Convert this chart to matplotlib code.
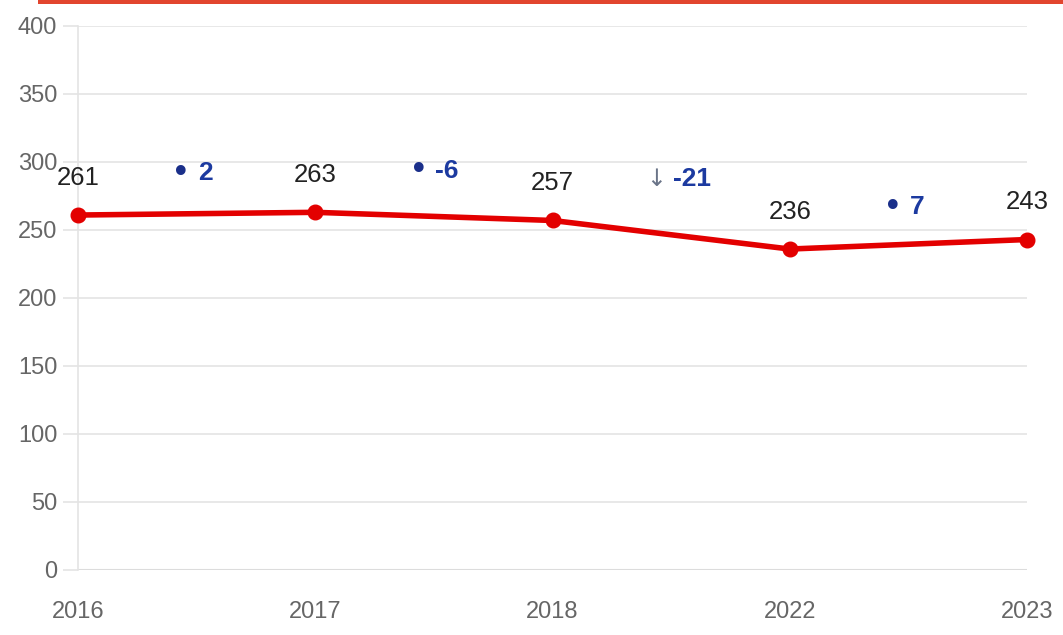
import matplotlib.pyplot as plt
from matplotlib.patches import Rectangle

years = ["2016", "2017", "2018", "2022", "2023"]
values = [261, 263, 257, 236, 243]
changes = ["2", "-6", "-21", "7"]
change_marks = ["•", "•", "↓", "•"]
yticks = [0, 50, 100, 150, 200, 250, 300, 350, 400]

plt.rcParams['font.family'] = ['Liberation Sans', 'DejaVu Sans']

fig = plt.figure(figsize=(10.63, 6.35), dpi=100)
ax = fig.add_axes([78/1063, 1 - 570/635, (1027-78)/1063, (570-26)/635])

x = list(range(len(years)))
ax.plot(x, values, color="#e30000", lw=4, marker="o", ms=10.5, clip_on=False, zorder=5,
        solid_capstyle="round")

# value labels over each point
for xi, v in zip(x, values):
    ax.annotate(str(v), (xi, v), xytext=(0, 27), textcoords="offset points",
                ha="center", va="center", fontsize=18.5, color="#222222")

# change between neighbouring years
for i, (mk, ch) in enumerate(zip(change_marks, changes)):
    xm = i + 0.5
    ym = values[i]
    if mk == "↓":
        ax.annotate(mk, (xm, ym), xytext=(-4, 30), textcoords="offset points",
                    ha="right", va="center", fontsize=17, color="#6a7488",
                    family=['DejaVu Sans'])
    else:
        ax.annotate(mk, (xm, ym), xytext=(-4, 30), textcoords="offset points",
                    ha="right", va="center", fontsize=24, color="#1a2f8a",
                    family=['DejaVu Sans'])
    ax.annotate(ch, (xm, ym), xytext=(1, 30), textcoords="offset points",
                ha="left", va="center", fontsize=19, color="#1c3aa0", fontweight="bold")

ax.set_xlim(0, len(years) - 1)
ax.set_ylim(0, 400)
ax.set_yticks(yticks)
ax.set_xticks(x)
ax.set_xticklabels(years)
ax.grid(axis="y", color="#e4e4e4", lw=1.2)
ax.set_axisbelow(True)
for s in ["top", "right", "bottom"]:
    ax.spines[s].set_visible(False)
ax.spines["left"].set_color("#e4e4e4")
ax.spines["left"].set_linewidth(1.2)
ax.tick_params(axis="y", length=11, color="#e4e4e4", width=1.2, pad=4,
               labelsize=17, labelcolor="#666666")
ax.tick_params(axis="x", length=0, pad=22, labelsize=17, labelcolor="#666666")
ax.axhline(0, color="#dcdcdc", lw=1.5, zorder=1)

fig.add_artist(Rectangle((38/1063, 1 - 4/635), 1 - 38/1063, 4/635,
                         transform=fig.transFigure, color="#e2452e", lw=0))

fig.savefig("out.png", dpi=100)
